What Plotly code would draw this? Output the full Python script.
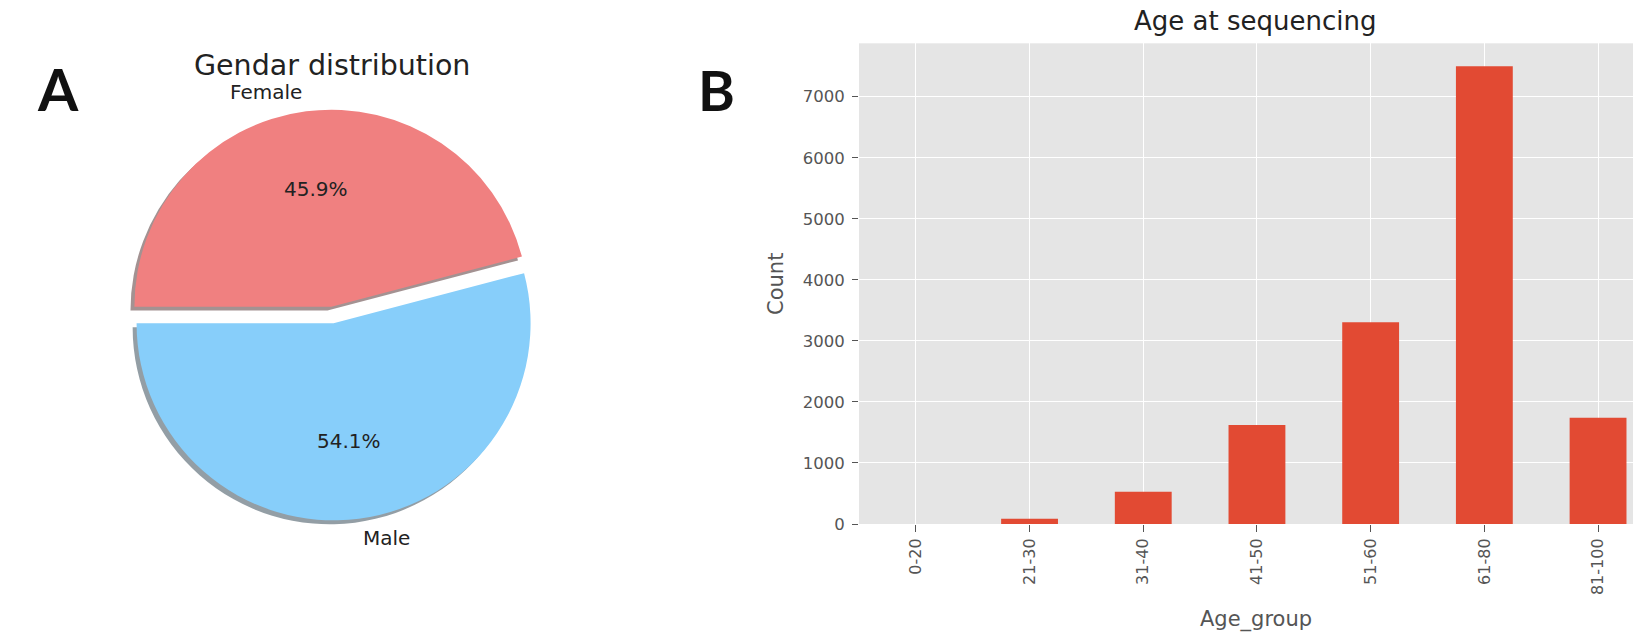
import math
import plotly.graph_objects as go

W, H = 1633, 636

# ---------------- data ----------------
gender_labels = ["Female", "Male"]
gender_share = [45.9, 54.1]
gender_colors = ["#F08080", "#87CEFA"]

age_groups = ["0-20", "21-30", "31-40", "41-50", "51-60", "61-80", "81-100"]
age_counts = [0, 87, 530, 1620, 3305, 7500, 1740]
count_ticks = [0, 1000, 2000, 3000, 4000, 5000, 6000, 7000]

# ---------------- pixel helpers ----------------
def px(x):
    return x / W


def py(y):
    return 1 - y / H


# pie geometry in pixels
PIE_CX, PIE_CY = 332.5, 315.0
PIE_R = 197.0
PULL = 0.0426
SHADOW_OFF = 0.02 * PIE_R
START_DEG = 180.0  # first wedge starts at 9 o'clock, running clockwise

# bar panel geometry in pixels
BAR_LEFT, BAR_TOP, BAR_BOTTOM = 859.0, 43.3, 524.0
CAT_STEP = 113.7

fig = go.Figure()

half = PIE_R * (1 + PULL)


def pie_domain(dx=0.0, dy=0.0):
    return dict(
        x=[px(PIE_CX + dx - half), px(PIE_CX + dx + half)],
        y=[py(PIE_CY + dy + half), py(PIE_CY + dy - half)],
    )


def darker(hex_color, f=0.3, a=0.5):
    h = hex_color.lstrip("#")
    r, g, b = (int(h[i:i + 2], 16) for i in (0, 2, 4))
    return f"rgba({int(r * f)},{int(g * f)},{int(b * f)},{a})"


common = dict(
    labels=gender_labels,
    values=gender_share,
    sort=False,
    direction="clockwise",
    rotation=-90,
    pull=[PULL] * len(gender_share),
    textinfo="none",
    showlegend=False,
)

# drop shadow under the pie
fig.add_trace(go.Pie(
    **common,
    marker=dict(colors=[darker(c) for c in gender_colors], line=dict(width=0)),
    domain=pie_domain(-SHADOW_OFF, SHADOW_OFF),
    hoverinfo="skip",
))
# the pie itself
fig.add_trace(go.Pie(
    **common,
    marker=dict(colors=gender_colors, line=dict(width=0)),
    domain=pie_domain(),
))

# bar chart of age groups
fig.add_trace(go.Bar(
    x=age_groups,
    y=age_counts,
    marker=dict(color="#E24A33", line=dict(width=0)),
    width=0.5,
    xaxis="x",
    yaxis="y",
    showlegend=False,
))

annotations = []


def note(x, y, text, size, color="#222222", **kw):
    d = dict(x=px(x), y=py(y), xref="paper", yref="paper", text=text,
             showarrow=False, xanchor=kw.pop("xanchor", "center"),
             yanchor="middle", font=dict(size=size, color=color,
                                         family=kw.pop("family", "DejaVu Sans")))
    d.update(kw)
    annotations.append(d)


# wedge labels and percentages, placed along each wedge's bisector
total = sum(gender_share)
start = START_DEG
for lab, v in zip(gender_labels, gender_share):
    sweep = 360.0 * v / total
    mid = math.radians(start - sweep / 2)
    ux, uy = math.cos(mid), -math.sin(mid)
    cx = PIE_CX + PULL * PIE_R * ux
    cy = PIE_CY + PULL * PIE_R * uy
    note(cx + 0.6 * PIE_R * ux, cy + 0.6 * PIE_R * uy, f"{100 * v / total:.1f}%", 20)
    note(cx + 1.1 * PIE_R * ux, cy + 1.1 * PIE_R * uy, lab, 20,
         xanchor="right" if ux < 0 else "left")
    start -= sweep

# titles, axis labels and panel letters
note(332, 66, "Gendar distribution", 28.5)
note(1255, 21, "Age at sequencing", 26)
note(1256, 619, "Age_group", 21, color="#555555")
note(776, 284, "Count", 21, color="#555555", textangle=-90)
note(58, 88.5, "<b>A</b>", 58, color="#111111", family="Lato")
note(716.5, 89.5, "<b>B</b>", 56, color="#111111", family="Lato")

x_right = -0.5 + (W - BAR_LEFT) / CAT_STEP

fig.update_layout(
    width=W,
    height=H,
    margin=dict(l=0, r=0, t=0, b=0),
    paper_bgcolor="white",
    plot_bgcolor="#E5E5E5",
    font=dict(family="DejaVu Sans", color="#222222"),
    template="none",
    annotations=annotations,
    xaxis=dict(
        domain=[px(BAR_LEFT), 1.0],
        range=[-0.5, x_right],
        type="category",
        showgrid=True, gridcolor="white", gridwidth=1.3,
        ticks="outside", ticklen=7, tickwidth=1.2, tickcolor="#555555",
        tickangle=-90,
        tickfont=dict(size=16, color="#555555"),
        showline=False, zeroline=False,
        fixedrange=True,
    ),
    yaxis=dict(
        domain=[py(BAR_BOTTOM), py(BAR_TOP)],
        range=[0, 1.05 * max(age_counts)],
        tickvals=count_ticks,
        showgrid=True, gridcolor="white", gridwidth=1.3,
        ticks="outside", ticklen=6, tickwidth=1.2, tickcolor="#555555",
        ticklabelstandoff=4,
        tickfont=dict(size=16.5, color="#555555"),
        showline=False, zeroline=False,
        fixedrange=True,
    ),
)

fig.write_html("out.html")
